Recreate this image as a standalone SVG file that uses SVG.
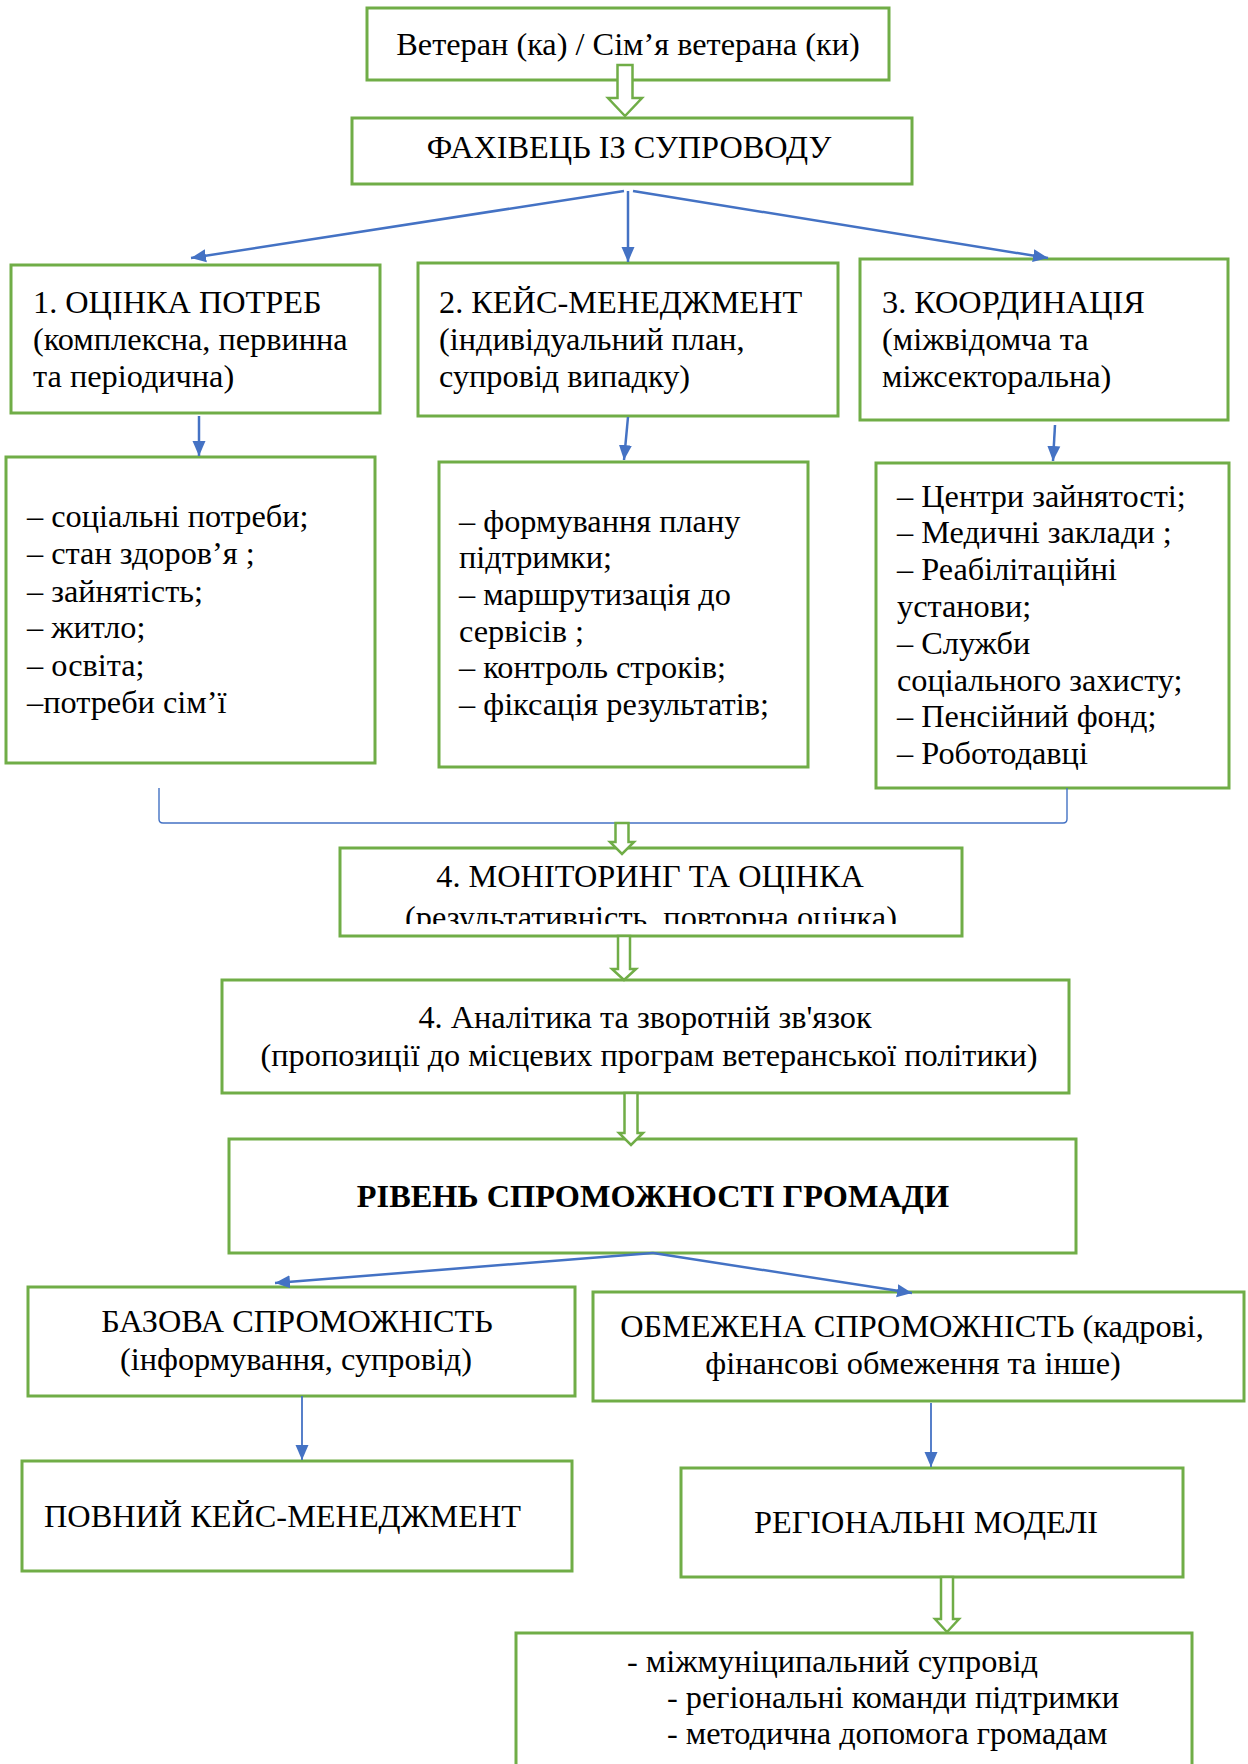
<svg xmlns="http://www.w3.org/2000/svg" width="1248" height="1764" viewBox="0 0 1248 1764">
<style>
.box{fill:#fff;stroke:#70AD47;stroke-width:3}
.t{font-family:"Liberation Serif","Times New Roman",serif;font-size:32.3px;fill:#000}
.c{text-anchor:middle}
.b{font-weight:bold}
.con{stroke:#4472C4;stroke-width:2.5;fill:none;marker-end:url(#ah)}
.con2{stroke:#4472C4;stroke-width:1.8;fill:none;marker-end:url(#ah)}
.blk{fill:#fff;stroke:#70AD47;stroke-width:2.5;stroke-linejoin:miter}
.br{stroke:#4472C4;stroke-width:1.4;fill:none}
</style>
<defs>
<marker id="ah" markerUnits="userSpaceOnUse" markerWidth="16" markerHeight="16" viewBox="0 0 16 16" refX="15" refY="8" orient="auto">
<path d="M0,1.5 L15,8 L0,14.5 Z" fill="#4472C4"/>
</marker>
<clipPath id="monclip"><rect x="340" y="848" width="622" height="76"/></clipPath>
</defs>
<rect width="1248" height="1764" fill="#fff"/>

<g id="n-veteran"><rect class="box" x="367" y="8" width="522" height="72"/><text class="t c" x="628" y="55">Ветеран (ка) / Сім’я ветерана (ки)</text></g>
<g id="n-fakhivets"><rect class="box" x="352" y="118" width="560" height="66"/><text class="t c" x="629" y="158">ФАХІВЕЦЬ ІЗ СУПРОВОДУ</text></g>

<g id="n-otsinka"><rect class="box" x="11" y="265" width="369" height="148"/>
<text class="t" x="33" y="313">1. ОЦІНКА ПОТРЕБ</text><text class="t" x="33" y="350">(комплексна, первинна</text><text class="t" x="33" y="387">та періодична)</text></g>
<g id="n-keis"><rect class="box" x="418" y="263" width="420" height="153"/>
<text class="t" x="439" y="313">2. КЕЙС-МЕНЕДЖМЕНТ</text><text class="t" x="439" y="350">(індивідуальний план,</text><text class="t" x="439" y="387">супровід випадку)</text></g>
<g id="n-koord"><rect class="box" x="860" y="259" width="368" height="161"/>
<text class="t" x="882" y="313">3. КООРДИНАЦІЯ</text><text class="t" x="882" y="350">(міжвідомча та</text><text class="t" x="882" y="387">міжсекторальна)</text></g>

<g id="n-list1"><rect class="box" x="6" y="457" width="369" height="306"/>
<text class="t" x="27" y="527">– соціальні потреби;</text><text class="t" x="27" y="564">– стан здоров’я ;</text><text class="t" x="27" y="602">– зайнятість;</text><text class="t" x="27" y="638">– житло;</text><text class="t" x="27" y="676">– освіта;</text><text class="t" x="27" y="713">–потреби сім’ї</text></g>
<g id="n-list2"><rect class="box" x="439" y="462" width="369" height="305"/>
<text class="t" x="459" y="532">– формування плану</text><text class="t" x="459" y="568">підтримки;</text><text class="t" x="459" y="605">– маршрутизація до</text><text class="t" x="459" y="642">сервісів ;</text><text class="t" x="459" y="678">– контроль строків;</text><text class="t" x="459" y="715">– фіксація результатів;</text></g>
<g id="n-list3"><rect class="box" x="876" y="463" width="353" height="325"/>
<text class="t" x="897" y="507">– Центри зайнятості;</text><text class="t" x="897" y="543">– Медичні заклади ;</text><text class="t" x="897" y="580">– Реабілітаційні</text><text class="t" x="897" y="617">установи;</text><text class="t" x="897" y="654">– Служби</text><text class="t" x="897" y="691">соціального захисту;</text><text class="t" x="897" y="727">– Пенсійний фонд;</text><text class="t" x="897" y="764">– Роботодавці</text></g>

<g id="n-monitoring"><rect class="box" x="340" y="848" width="622" height="88"/>
<text class="t c" x="650" y="887">4. МОНІТОРИНГ ТА ОЦІНКА</text>
<text class="t c" x="651" y="928" clip-path="url(#monclip)">(результативність, повторна оцінка)</text></g>
<g id="n-analityka"><rect class="box" x="222" y="980" width="847" height="113"/>
<text class="t c" x="645" y="1028">4. Аналітика та зворотній зв'язок</text>
<text class="t c" x="649" y="1066">(пропозиції до місцевих програм ветеранської політики)</text></g>
<g id="n-riven"><rect class="box" x="229" y="1139" width="847" height="114"/>
<text class="t c b" x="653" y="1207">РІВЕНЬ СПРОМОЖНОСТІ ГРОМАДИ</text></g>
<g id="n-bazova"><rect class="box" x="28" y="1287" width="547" height="109"/>
<text class="t c" x="297" y="1332">БАЗОВА СПРОМОЖНІСТЬ</text><text class="t c" x="296" y="1370">(інформування, супровід)</text></g>
<g id="n-obmezhena"><rect class="box" x="593" y="1292" width="651" height="109"/>
<text class="t c" x="912" y="1337">ОБМЕЖЕНА СПРОМОЖНІСТЬ (кадрові,</text><text class="t c" x="913" y="1374">фінансові обмеження та інше)</text></g>
<g id="n-povnyi"><rect class="box" x="22" y="1461" width="550" height="110"/>
<text class="t" x="44" y="1527">ПОВНИЙ КЕЙС-МЕНЕДЖМЕНТ</text></g>
<g id="n-regionalni"><rect class="box" x="681" y="1468" width="502" height="109"/>
<text class="t c" x="926" y="1533">РЕГІОНАЛЬНІ МОДЕЛІ</text></g>
<g id="n-bottom"><rect class="box" x="516" y="1633" width="676" height="200"/>
<text class="t" x="627" y="1672">- міжмуніципальний супровід</text><text class="t" x="667" y="1708">- регіональні команди підтримки</text><text class="t" x="667" y="1744">- методична допомога громадам</text></g>

<g id="connectors">
<path class="con" d="M624,191 L191,258"/>
<path class="con" d="M628,191 L628,262"/>
<path class="con" d="M633,191 L1048,258"/>
<path class="con" d="M199,416 L199,456"/>
<path class="con" d="M628,417 L624,460"/>
<path class="con" d="M1055,425 L1053,461"/>
<path class="br" d="M159,788 L159,819 Q159,823 163,823 L1063,823 Q1067,823 1067,819 L1067,788"/>
<path class="con" d="M653,1253 L275,1283"/>
<path class="con" d="M653,1253 L912,1293"/>
<path class="con2" d="M302,1396 L302,1460"/>
<path class="con2" d="M931,1403 L931,1467"/>
<path class="blk" d="M617.5,65 L632.5,65 L632.5,98 L642,98 L625,116 L608,98 L617.5,98 Z"/>
<path class="blk" d="M615.5,823 L628.5,823 L628.5,842 L634,842 L622,854 L610,842 L615.5,842 Z"/>
<path class="blk" d="M618,936 L630,936 L630,969 L636,969 L624,980 L612,969 L618,969 Z"/>
<path class="blk" d="M624.5,1093 L637.5,1093 L637.5,1133 L643,1133 L631,1145 L619,1133 L624.5,1133 Z"/>
<path class="blk" d="M941,1577 L953,1577 L953,1619 L959,1619 L947,1632 L935,1619 L941,1619 Z"/>
</g>
</svg>
